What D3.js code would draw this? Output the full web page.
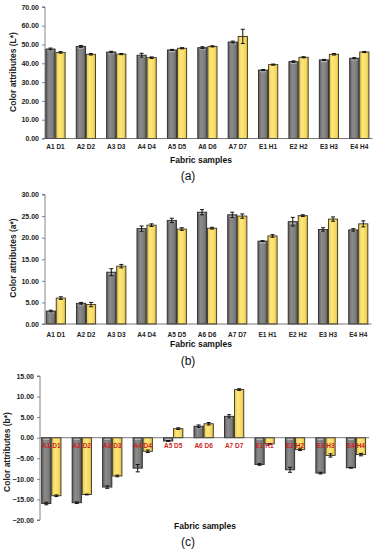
<!DOCTYPE html>
<html><head><meta charset="utf-8">
<script src="https://cdn.jsdelivr.net/npm/d3@7"></script>
<style>
html,body{margin:0;padding:0;background:#fff;}
svg{display:block;}
text{font-family:"Liberation Sans",Arial,sans-serif;}
</style></head>
<body>
<svg id="chart" width="374" height="550"></svg>
<script>
// ---------- DATA ----------
const categories = ["A1 D1","A2 D2","A3 D3","A4 D4","A5 D5","A6 D6","A7 D7","E1 H1","E2 H2","E3 H3","E4 H4"];

const lGray      = [47.6, 49.0, 46.0, 44.3, 47.1, 48.3, 51.3, 36.4, 40.9, 41.8, 42.7];
const lGrayErr   = [0.5, 0.5, 0.4, 1.0, 0.3, 0.5, 0.5, 0.3, 0.4, 0.3, 0.3];
const lYellow    = [45.8, 44.8, 44.9, 43.0, 48.0, 49.0, 54.3, 39.3, 43.2, 44.8, 46.0];
const lYellowErr = [0.4, 0.4, 0.3, 0.4, 0.3, 0.3, 3.8, 0.3, 0.3, 0.4, 0.3];

const aGray      = [3.0, 4.8, 12.0, 22.1, 24.0, 25.9, 25.3, 19.2, 23.7, 21.9, 21.8];
const aGrayErr   = [0.2, 0.2, 0.8, 0.6, 0.5, 0.6, 0.6, 0.1, 1.0, 0.4, 0.3];
const aYellow    = [6.0, 4.5, 13.4, 22.9, 22.0, 22.2, 25.0, 20.4, 25.1, 24.3, 23.2];
const aYellowErr = [0.3, 0.5, 0.4, 0.3, 0.3, 0.2, 0.5, 0.3, 0.2, 0.5, 0.7];

const bGray      = [-16.0, -15.8, -12.0, -7.4, -0.8, 2.8, 5.2, -6.5, -7.8, -8.6, -7.3];
const bGrayErr   = [0.3, 0.2, 0.3, 0.9, 0.1, 0.3, 0.4, 0.2, 0.6, 0.2, 0.1];
const bYellow    = [-14.1, -13.8, -9.3, -3.3, 2.2, 3.4, 11.7, -1.5, -2.9, -4.3, -4.1];
const bYellowErr = [0.2, 0.1, 0.2, 0.3, 0.2, 0.3, 0.2, 0.1, 0.2, 0.4, 0.3];

const lTicks = [0, 10, 20, 30, 40, 50, 60, 70];
const aTicks = [0, 5, 10, 15, 20, 25, 30];
const bTicks = [-20, -15, -10, -5, 0, 5, 10, 15];

const xTitle = "Fabric samples";
const yTitles = ["Color attributes (L*)", "Color attributes (a*)", "Color attributes (b*)"];
const panelLabels = ["(a)", "(b)", "(c)"];

// ---------- DRAW ----------
const svg = d3.select("#chart");
const defs = svg.append("defs");
const gGray = defs.append("linearGradient").attr("id","gGray").attr("x1","0").attr("x2","1").attr("y1","0").attr("y2","0");
[["0%","#5f5f5f"],["35%","#8c8c8c"],["75%","#7c7c7c"],["100%","#5a5a5a"]].forEach(s=>gGray.append("stop").attr("offset",s[0]).attr("stop-color",s[1]));
const gYel = defs.append("linearGradient").attr("id","gYel").attr("x1","0").attr("x2","1").attr("y1","0").attr("y2","0");
[["0%","#e6c64a"],["35%","#fde77e"],["75%","#f6da62"],["100%","#d9b83c"]].forEach(s=>gYel.append("stop").attr("offset",s[0]).attr("stop-color",s[1]));

function panel(cfg){
  const g = svg.append("g");
  const x0 = d3.scaleBand().domain(categories).range(cfg.xRange).paddingInner(0.34).paddingOuter(0.17);
  const x1 = d3.scaleBand().domain(["gray","yellow"]).range([0, x0.bandwidth()]);
  const y = d3.scaleLinear().domain(cfg.yDomain).range(cfg.yRange);
  const zero = y(0);

  // y axis
  const yAxis = d3.axisLeft(y).tickValues(cfg.ticks).tickFormat(d3.format(".2f")).tickSize(3).tickPadding(3);
  const ya = g.append("g").attr("transform",`translate(${cfg.axisX},0)`).call(yAxis);
  ya.select(".domain").attr("stroke","#666").attr("stroke-width",0.8).attr("d",`M-3,${y(cfg.yDomain[1])}H0V${y(cfg.yDomain[0])}H-3`);
  ya.selectAll(".tick line").attr("stroke","#666").attr("stroke-width",0.8);
  ya.selectAll(".tick text").attr("font-size",7).attr("font-weight","bold").attr("fill","#222")
    .attr("font-family","'Liberation Sans',Arial,sans-serif");

  // series
  const series = [
    {key:"gray", vals:cfg.gray, err:cfg.grayErr, fill:"url(#gGray)", stroke:"#2a2a2a"},
    {key:"yellow", vals:cfg.yellow, err:cfg.yellowErr, fill:"url(#gYel)", stroke:"#3a3322"}
  ];
  series.forEach(s=>{
    const bg = g.append("g");
    bg.selectAll("rect").data(categories).join("rect")
      .attr("x", c=>x0(c)+x1(s.key)+0.4)
      .attr("width", x1.bandwidth()-0.8)
      .attr("y", (c,i)=>Math.min(y(s.vals[i]), zero))
      .attr("height", (c,i)=>Math.abs(y(s.vals[i])-zero))
      .attr("fill", s.fill).attr("stroke", s.stroke).attr("stroke-width",0.9);
    if(s.key==="gray"){
      bg.selectAll("line.hl").data(categories).join("line").attr("class","hl")
        .attr("x1", c=>x0(c)+x1(s.key)+2).attr("x2", c=>x0(c)+x1(s.key)+x1.bandwidth()-2)
        .attr("y1",(c,i)=> s.vals[i]>=0 ? y(s.vals[i])+1.6 : zero+1.6)
        .attr("y2",(c,i)=> s.vals[i]>=0 ? y(s.vals[i])+1.6 : zero+1.6)
        .attr("stroke","#c8c8c8").attr("stroke-width",1.2).attr("opacity",0.8);
    }
    // error bars
    const eg = g.append("g").attr("stroke","#111").attr("stroke-width",1);
    categories.forEach((c,i)=>{
      const cx = x0(c)+x1(s.key)+x1.bandwidth()/2;
      const v = s.vals[i], e = s.err[i];
      const yt = y(v+e), yb = y(v-e);
      eg.append("line").attr("x1",cx).attr("x2",cx).attr("y1",yt).attr("y2",yb);
      eg.append("line").attr("x1",cx-2).attr("x2",cx+2).attr("y1",yt).attr("y2",yt);
      eg.append("line").attr("x1",cx-2).attr("x2",cx+2).attr("y1",yb).attr("y2",yb);
    });
  });

  // x baseline
  g.append("line").attr("x1",cfg.axisX).attr("x2",cfg.xRange[1]-2).attr("y1",zero).attr("y2",zero)
    .attr("stroke","#555").attr("stroke-width",0.8);

  // category labels
  g.append("g").selectAll("text").data(categories).join("text")
    .attr("x", c=>x0(c)+x0.bandwidth()/2).attr("y", cfg.catY)
    .attr("text-anchor","middle").attr("font-size",6.5).attr("font-weight","bold")
    .attr("fill", cfg.catColor).text(c=>c);

  // titles
  g.append("text").attr("x",cfg.xTitleX).attr("y",cfg.xTitleY).attr("text-anchor","middle")
    .attr("font-size",8.5).attr("font-weight","bold").attr("fill","#111").text(xTitle);
  g.append("text").attr("transform",`translate(${cfg.yTitleX},${cfg.yTitleY}) rotate(-90)`)
    .attr("text-anchor","middle").attr("font-size",8.5).attr("font-weight","bold").attr("fill","#222").text(cfg.yTitle);
  g.append("text").attr("x",188).attr("y",cfg.labelY).attr("text-anchor","middle")
    .attr("font-size",12).attr("fill","#111").attr("font-family","'Liberation Serif','Times New Roman',serif").text(cfg.label);
}

panel({xRange:[40.3,374.5], axisX:45, yDomain:[0,70], yRange:[138.5,6.9], ticks:lTicks,
  gray:lGray, grayErr:lGrayErr, yellow:lYellow, yellowErr:lYellowErr,
  catY:148.5, catColor:"#222", xTitleX:201, xTitleY:163, yTitleX:15.5, yTitleY:72, yTitle:yTitles[0],
  labelY:180, label:panelLabels[0]});

panel({xRange:[40.7,373.4], axisX:45, yDomain:[0,30], yRange:[324,194.5], ticks:aTicks,
  gray:aGray, grayErr:aGrayErr, yellow:aYellow, yellowErr:aYellowErr,
  catY:336.5, catColor:"#222", xTitleX:201, xTitleY:346.5, yTitleX:16, yTitleY:258, yTitle:yTitles[1],
  labelY:365, label:panelLabels[1]});

panel({xRange:[36.1,371.2], axisX:40, yDomain:[-20,15], yRange:[520,376], ticks:bTicks,
  gray:bGray, grayErr:bGrayErr, yellow:bYellow, yellowErr:bYellowErr,
  catY:447.5, catColor:"#cc1f1f", xTitleX:205, xTitleY:529, yTitleX:9.5, yTitleY:452, yTitle:yTitles[2],
  labelY:546, label:panelLabels[2]});
</script>
</body></html>
